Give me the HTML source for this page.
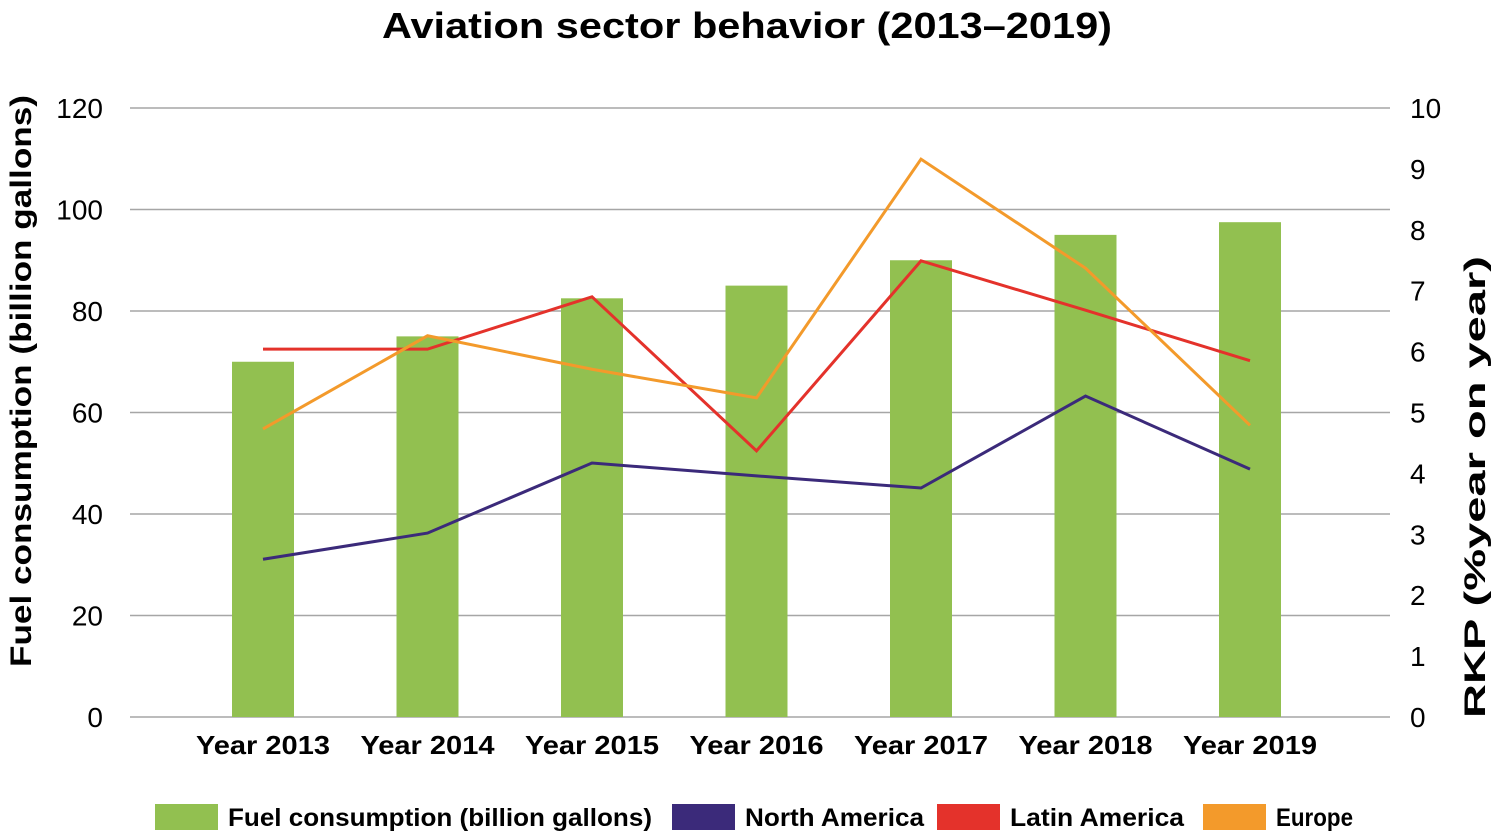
<!DOCTYPE html>
<html><head><meta charset="utf-8"><style>
body{margin:0;background:#fff}
svg{display:block;font-family:"Liberation Sans",sans-serif}
</style></head><body>
<svg id="chart" width="1501" height="836">
<text x="747" y="38" text-anchor="middle" font-size="36" font-weight="bold" textLength="730" lengthAdjust="spacingAndGlyphs">Aviation sector behavior (2013–2019)</text>
<g id="grid"></g><g id="bars"></g><g id="lines"></g><g id="axes"></g>
<text transform="translate(31,381) rotate(-90)" text-anchor="middle" font-size="30" font-weight="bold" textLength="572" lengthAdjust="spacingAndGlyphs">Fuel consumption (billion gallons)</text>
<text transform="translate(1485,487) rotate(-90)" text-anchor="middle" font-size="30" font-weight="bold" textLength="462" lengthAdjust="spacingAndGlyphs">RKP (%year on year)</text>
<g id="legend"></g>
</svg>
<script>
const categories=["Year 2013","Year 2014","Year 2015","Year 2016","Year 2017","Year 2018","Year 2019"];
const fuel=[70,75,82.5,85,90,95,97.5];
const northAmerica=[2.59,3.02,4.17,3.96,3.76,5.27,4.07];
const latinAmerica=[6.04,6.04,6.9,4.37,7.49,6.68,5.85];
const europe=[4.73,6.26,5.71,5.24,9.16,7.37,4.79];
const leftTicks=[0,20,40,60,80,100,120];
const rightTicks=[0,1,2,3,4,5,6,7,8,9,10];
const NS="http://www.w3.org/2000/svg";
const y0=717,y1=108;
const yL=v=>y0-(y0-y1)*v/120;
const yR=v=>y0-(y0-y1)*v/10;
const xC=i=>263+164.5*i;
function mk(tag,attrs,parent,text){const e=document.createElementNS(NS,tag);for(const k in attrs)e.setAttribute(k,attrs[k]);if(text!==undefined)e.textContent=text;document.getElementById(parent).appendChild(e);return e;}
leftTicks.forEach(t=>{
  const l=mk("line",{x1:130,x2:1390,y1:yL(t),y2:yL(t),stroke:"#a6a6a6","stroke-width":1.5},"grid");
  
  
  const tx=mk("text",{x:103,y:yL(t)+10,"text-anchor":"end","font-size":28},"axes",t);
  
  
});
rightTicks.forEach(t=>{
  const tx=mk("text",{x:1410,y:yR(t)+10,"font-size":28},"axes",t);
  
  
});
categories.forEach((c,i)=>{
  const b=mk("rect",{x:xC(i)-31,y:yL(fuel[i]),width:62,height:y0-yL(fuel[i]),fill:"#92c050"},"bars");
  
  
  const t=mk("text",{x:xC(i),y:754,"text-anchor":"middle","font-size":26,"font-weight":"bold",textLength:134,lengthAdjust:"spacingAndGlyphs"},"axes",c);
  
  
});
[[northAmerica,"#3b2a7a","north-america-line"],[latinAmerica,"#e4322b","latin-america-line"],[europe,"#f39a2b","europe-line"]].forEach(([d,c,n])=>{
  const p=mk("polyline",{points:d.map((v,i)=>xC(i)+","+yR(v)).join(" "),fill:"none",stroke:c,"stroke-width":3},"lines");
  
  
});
[[155,228,"#92c050","Fuel consumption (billion gallons)",424],[672,745,"#3b2a7a","North America",179],[937,1010,"#e4322b","Latin America",174],[1203,1276,"#f39a2b","Europe",77]].forEach(([rx,tx,c,l,w])=>{
  const r=mk("rect",{x:rx,y:804,width:63,height:26,fill:c},"legend");
  
  
  const t=mk("text",{x:tx,y:826,"font-size":25,"font-weight":"bold",textLength:w,lengthAdjust:"spacingAndGlyphs"},"legend",l);
  
  
});
</script>
</body></html>
